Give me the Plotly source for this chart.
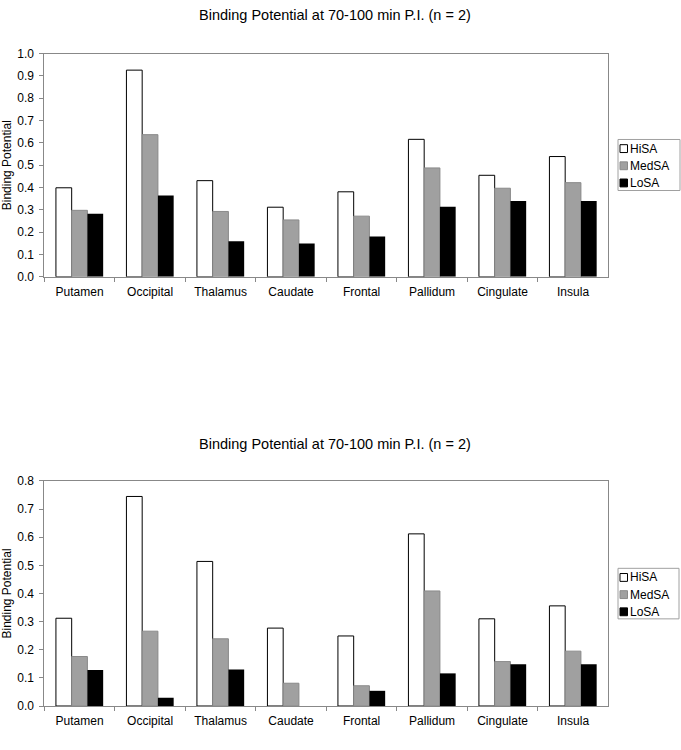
import plotly.graph_objects as go

regions = ["Putamen", "Occipital", "Thalamus", "Caudate", "Frontal", "Pallidum", "Cingulate", "Insula"]
series_names = ["HiSA", "MedSA", "LoSA"]

top_hisa = [0.399, 0.926, 0.431, 0.312, 0.381, 0.616, 0.455, 0.539]
top_medsa = [0.298, 0.637, 0.293, 0.255, 0.272, 0.488, 0.397, 0.422]
top_losa = [0.283, 0.365, 0.159, 0.149, 0.181, 0.314, 0.340, 0.340]

bot_hisa = [0.312, 0.745, 0.514, 0.277, 0.249, 0.612, 0.310, 0.356]
bot_medsa = [0.176, 0.266, 0.239, 0.081, 0.072, 0.409, 0.158, 0.195]
bot_losa = [0.128, 0.029, 0.130, 0.0, 0.054, 0.116, 0.148, 0.148]

title_text = "Binding Potential at 70-100 min P.I. (n = 2)"
y_title = "Binding Potential"

fills = ["#ffffff", "#a0a0a0", "#000000"]
lines = ["#000000", "#8a8a8a", "#000000"]
line_widths = [1, 1, 0]

W, H = 681, 750
FONT = "Liberation Sans, Arial, sans-serif"

fig = go.Figure()

top_sets = [top_hisa, top_medsa, top_losa]
bot_sets = [bot_hisa, bot_medsa, bot_losa]

for i, name in enumerate(series_names):
    fig.add_trace(go.Bar(
        x=regions, y=top_sets[i], name=name, showlegend=False,
        marker=dict(color=fills[i], line=dict(color=lines[i], width=line_widths[i])),
        xaxis="x", yaxis="y",
    ))
for i, name in enumerate(series_names):
    fig.add_trace(go.Bar(
        x=regions, y=bot_sets[i], name=name, showlegend=False,
        marker=dict(color=fills[i], line=dict(color=lines[i], width=line_widths[i])),
        xaxis="x2", yaxis="y2",
    ))

xd = [44.3 / W, 608.3 / W]
top_dom = [1 - 275 / H, 1 - 47.5 / H]
bot_dom = [1 - 712.3 / H, 1 - 483 / H]

axis_common = dict(
    showline=True, linecolor="#888888", linewidth=1, mirror=True,
    ticks="outside", ticklen=4, tickcolor="#888888",
    tickfont=dict(family=FONT, size=12, color="#000000"),
    showgrid=False, zeroline=False,
)

shapes = []
annotations = []


def py(v):
    return 1 - v / H


def px(v):
    return v / W


# legends (one per chart), drawn in paper coordinates
for (bx0, bx1, by0, by1) in [(618, 680, 135, 187), (618, 679, 572, 623.5)]:
    shapes.append(dict(type="rect", xref="paper", yref="paper",
                       x0=px(bx0), x1=px(bx1), y0=py(by1), y1=py(by0),
                       line=dict(color="#a0a0a0", width=1), fillcolor="#ffffff", layer="above"))
    for i, name in enumerate(series_names):
        cy = by0 + 9.3 + 17.5 * i
        shapes.append(dict(type="rect", xref="paper", yref="paper",
                           x0=px(bx0 + 2), x1=px(bx0 + 9.5), y0=py(cy + 4), y1=py(cy - 4),
                           line=dict(color=lines[i], width=1), fillcolor=fills[i], layer="above"))
        annotations.append(dict(text=name, x=px(bx0 + 10), y=py(cy), xref="paper", yref="paper",
                                xanchor="left", yanchor="middle", showarrow=False,
                                font=dict(family=FONT, size=12, color="#000000")))

for ty in [8.5, 445]:
    annotations.append(dict(text=title_text, x=335 / W, y=py(ty), xref="paper", yref="paper",
                            xanchor="center", yanchor="middle", showarrow=False,
                            font=dict(family=FONT, size=14.5, color="#000000")))

fig.update_layout(
    width=W, height=H, autosize=False,
    margin=dict(l=0, r=0, t=0, b=0),
    paper_bgcolor="#ffffff", plot_bgcolor="#ffffff",
    font=dict(family=FONT, size=12, color="#000000"),
    barmode="group", bargap=0.33, bargroupgap=0,
    showlegend=False,
    xaxis=dict(domain=xd, anchor="y", tickson="boundaries", ticklabelstandoff=4, **axis_common),
    yaxis=dict(domain=top_dom, anchor="x", range=[0, 1.0], dtick=0.1, tickformat=".1f",
               ticklabelstandoff=3,
               title=dict(text=y_title, font=dict(family=FONT, size=12), standoff=3),
               **axis_common),
    xaxis2=dict(domain=xd, anchor="y2", tickson="boundaries", ticklabelstandoff=4, **axis_common),
    yaxis2=dict(domain=bot_dom, anchor="x2", range=[0, 0.8], dtick=0.1, tickformat=".1f",
                ticklabelstandoff=3,
                title=dict(text=y_title, font=dict(family=FONT, size=12), standoff=3),
                **axis_common),
    shapes=shapes,
    annotations=annotations,
)

fig.write_html(
    "out.html",
    config={"displayModeBar": False, "staticPlot": True},
    post_script="document.body.style.margin='0';document.body.style.overflow='hidden';",
)
